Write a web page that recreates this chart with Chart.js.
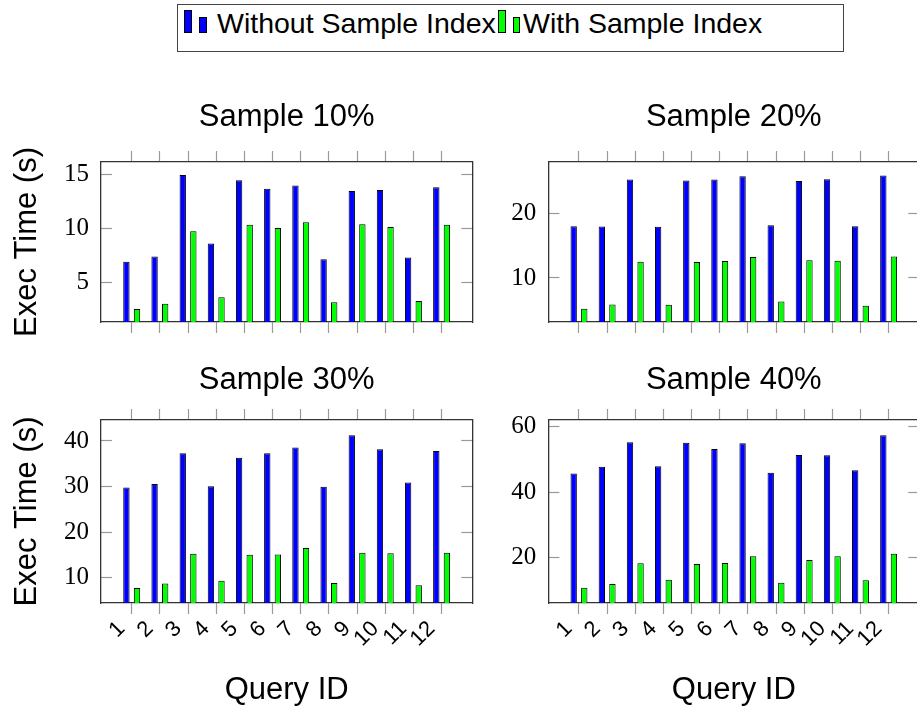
<!DOCTYPE html>
<html>
<head>
<meta charset="utf-8">
<script src="https://cdn.jsdelivr.net/npm/chart.js@4.4.1/dist/chart.umd.min.js"></script>
<style>
  html, body { margin: 0; padding: 0; background: #fff; }
  body { width: 917px; height: 710px; overflow: hidden; position: relative; font-family: 'Liberation Sans', Arial, sans-serif; }
  canvas { position: absolute; }
  #legend { position: absolute; left: 177px; top: 4px; width: 667px; height: 48px; border: 1px solid #444; box-sizing: border-box; font-size: 28.5px; color: #000; }
  #legend .sw { position: absolute; border: 1px solid #000; box-sizing: border-box; }
  #legend .txt { position: absolute; top: 4px; line-height: 1; white-space: nowrap; }
</style>
</head>
<body>
<div id="legend">
  <div class="sw" style="left:6px;top:5px;width:8px;height:23px;background:#0000ff"></div>
  <div class="sw" style="left:21px;top:12px;width:8px;height:16px;background:#0000ff"></div>
  <span class="txt" id="legend0" style="left:39px"></span>
  <div class="sw" style="left:320px;top:5px;width:8px;height:23px;background:#00ff00"></div>
  <div class="sw" style="left:335px;top:12px;width:7px;height:16px;background:#00ff00"></div>
  <span class="txt" id="legend1" style="left:345px"></span>
</div>
<canvas id="p10" width="480" height="280" style="left:0px;top:80px"></canvas>
<canvas id="p20" width="448" height="280" style="left:480px;top:80px"></canvas>
<canvas id="p30" width="480" height="370" style="left:0px;top:340px"></canvas>
<canvas id="p40" width="448" height="370" style="left:480px;top:340px"></canvas>
<script>
const seriesNames = ["Without Sample Index", "With Sample Index"];
const queryIds = [1, 2, 3, 4, 5, 6, 7, 8, 9, 10, 11, 12];

const without10 = [6.9, 7.4, 15.0, 8.6, 14.5, 13.7, 14.0, 7.15, 13.5, 13.6, 7.3, 13.85];
const with10 = [2.5, 3.0, 9.75, 3.6, 10.35, 10.05, 10.6, 3.15, 10.4, 10.15, 3.25, 10.35];
const without20 = [18.0, 17.95, 25.2, 17.9, 25.05, 25.2, 25.7, 18.15, 24.95, 25.25, 18.0, 25.8];
const with20 = [5.25, 5.9, 12.5, 5.85, 12.45, 12.6, 13.25, 6.35, 12.75, 12.65, 5.7, 13.3];
const without30 = [29.8, 30.6, 37.3, 30.1, 36.35, 37.3, 38.6, 30.0, 41.25, 38.2, 30.9, 37.8];
const with30 = [7.8, 8.75, 15.3, 9.4, 15.1, 15.15, 16.55, 8.9, 15.5, 15.4, 8.4, 15.5];
const without40 = [45.7, 47.75, 55.3, 47.95, 55.1, 53.2, 55.0, 45.9, 51.4, 51.3, 46.7, 57.4];
const with40 = [10.7, 11.8, 18.2, 13.1, 17.95, 18.25, 20.3, 12.2, 19.2, 20.3, 13.0, 21.1];

const yTicks10 = [5, 10, 15];
const yTicks20 = [10, 20];
const yTicks30 = [10, 20, 30, 40];
const yTicks40 = [20, 40, 60];

const xMin = -0.09;
const xMax = 13.09;

const blue = "#0000ff";
const green = "#00ff00";
const tickGray = "#9a9a9a";
const frameColor = "#333333";

Chart.defaults.font.family = "'Liberation Sans', Arial, sans-serif";
Chart.defaults.color = "#000";

document.getElementById("legend0").textContent = seriesNames[0];
document.getElementById("legend1").textContent = seriesNames[1];

function setTicks(values) {
    return scale => { scale.ticks = values.map(v => ({ value: v })); };
}

// one panel = one chart; frame sizes are fixed so the four plot boxes line up
function createPanel(id, title, withoutData, withData, yMin, yMax, yTicks, frame) {
    const ctx = document.getElementById(id).getContext("2d");
    const grid = { offset: false, drawOnChartArea: false, drawTicks: true, tickLength: 11, tickColor: tickGray, tickWidth: 1.2 };
    const innerGrid = Object.assign({}, grid, { tickLength: -11 });
    const border = { display: true, color: frameColor, width: 1.3 };

    return new Chart(ctx, {
        type: "bar",
        data: {
            labels: queryIds,
            datasets: [
                { label: seriesNames[0], data: withoutData, backgroundColor: blue, borderColor: "#000", borderWidth: 1, categoryPercentage: 0.752, barPercentage: 0.6 },
                { label: seriesNames[1], data: withData, backgroundColor: green, borderColor: "#000", borderWidth: 1, categoryPercentage: 0.752, barPercentage: 0.6 }
            ]
        },
        options: {
            responsive: false,
            animation: false,
            layout: { padding: { right: frame.padRight } },
            plugins: {
                legend: { display: false },
                tooltip: { enabled: false },
                title: { display: true, fullSize: false, text: title, font: { size: 31, weight: "normal" }, color: "#000", padding: { top: frame.titleTop, bottom: 0 } }
            },
            scales: {
                x: {
                    type: "linear", position: "bottom", min: xMin, max: xMax, offset: false,
                    afterBuildTicks: setTicks(queryIds),
                    afterFit: s => { s.height = frame.bottomH; },
                    grid: grid, border: border,
                    ticks: { display: frame.xLabels, autoSkip: false, minRotation: 45, maxRotation: 45, padding: 2, labelOffset: -10, font: { size: 22 }, color: "#000", callback: v => String(v) },
                    title: { display: frame.xLabels, text: "Query ID", font: { size: 31 }, color: "#000", padding: { top: 0, bottom: 1 } }
                },
                x2: {
                    type: "linear", position: "top", min: xMin, max: xMax, offset: false,
                    afterBuildTicks: setTicks(queryIds),
                    afterFit: s => { s.height = frame.topH; },
                    grid: grid, border: border,
                    ticks: { display: false }
                },
                y: {
                    position: "left", min: yMin, max: yMax,
                    afterBuildTicks: setTicks(yTicks),
                    afterFit: s => { s.width = frame.leftW; },
                    grid: innerGrid, border: border,
                    ticks: { padding: 23, font: { family: "'Liberation Serif', serif", size: 25 }, color: "#000" },
                    title: { display: frame.yTitle, text: "Exec Time (s)", font: { size: 31 }, color: "#000", padding: { top: 8.4, bottom: 0 } }
                },
                y2: {
                    position: "right", min: yMin, max: yMax,
                    afterBuildTicks: setTicks(yTicks),
                    afterFit: s => { s.width = 0; },
                    grid: innerGrid, border: border,
                    ticks: { display: false }
                }
            }
        }
    });
}

const topLeft = { padRight: 7.7, leftW: 101, titleTop: 18.4, topH: 26.4, bottomH: 16, xLabels: false, yTitle: true };
const topRight = { padRight: 8.7, leftW: 68.3, titleTop: 18.4, topH: 26.4, bottomH: 16, xLabels: false, yTitle: false };
const bottomLeft = { padRight: 7.7, leftW: 101, titleTop: 21.4, topH: 21.4, bottomH: 107, xLabels: true, yTitle: true };
const bottomRight = { padRight: 8.7, leftW: 68.3, titleTop: 21.4, topH: 21.4, bottomH: 107, xLabels: true, yTitle: false };

createPanel("p10", "Sample 10%", without10, with10, 1.3, 16.2, yTicks10, topLeft);
createPanel("p20", "Sample 20%", without20, with20, 3.2, 27.9, yTicks20, topRight);
createPanel("p30", "Sample 30%", without30, with30, 4.5, 44.6, yTicks30, bottomLeft);
createPanel("p40", "Sample 40%", without40, with40, 6.0, 62.1, yTicks40, bottomRight);
</script>
</body>
</html>
